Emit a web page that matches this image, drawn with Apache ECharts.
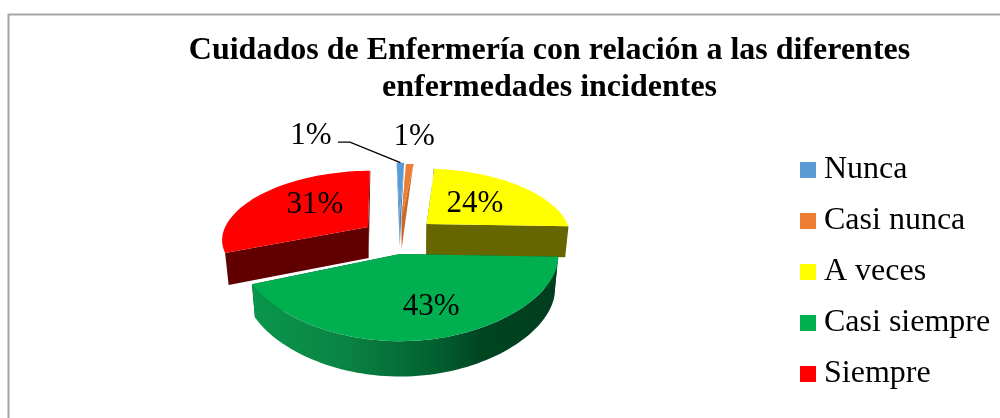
<!DOCTYPE html>
<html><head><meta charset="utf-8">
<style>html,body{margin:0;padding:0;background:#fff}#c{width:1000px;height:418px}</style>
<script src="https://cdn.jsdelivr.net/npm/echarts@6/dist/echarts.min.js"></script>
</head><body><div id="c"></div>
<script>
const categories = ['Nunca','Casi nunca','A veces','Casi siempre','Siempre'];
const values = [1,1,24,43,31];
const topColors = ['#5B9BD5','#ED7D31','#FFFF00','#00B050','#FF0000'];
const wallColors = ['#4A86BC','#C96A2A','#666600','#004522','#600000'];
const explode = [[-0.002,0.588],[0.012,0.56],[0.182,0.452],[0,0],[-0.217,0.405]];
const widthScale = [1,1,0.965,1,0.97];
const labelGround = [[-0.807,2.4],[0.127,2.375],[0.546,0.837],[0.192,-0.63],[-0.618,0.82]];
const FONT = '"Liberation Serif", serif';
const startDeg = -1.5, CX = 400, CY = 254, RAD = 158, K = 71.5, P = 0.18, DEPTH = 32, FAR = 1.07;
const total = values.reduce((a,b)=>a+b,0);
function range(i){
  let a = startDeg;
  for (let j=0;j<i;j++) a += values[j]/total*360;
  return [a, a+values[i]/total*360];
}
function project(X,Z){
  const s=1/(1+P*Z), sx = Z<0 ? Math.pow(s,0.25) : s;
  return [CX+RAD*X*sx, CY-K*Z*s, s, Z];
}
function rimPoint(i,deg){
  const t=deg*Math.PI/180, c=Math.cos(t);
  return project(explode[i][0]+widthScale[i]*Math.sin(t), explode[i][1]+(c>0?FAR*c:c));
}
function drop(p){
  const Z=p[3], taper = Z<0.7 ? 1 : Math.max(0,1-(Z-0.7)/0.8);
  return [CX+(p[0]-CX)*0.98, p[1]+DEPTH*Math.sqrt(p[2])*taper];
}
function poly(points, fill, z2){
  return {type:'polygon', z2:z2||0, shape:{points:points.map(p=>[p[0],p[1]])}, style:{fill:fill}};
}
function renderSlice(i){
  const [a,b]=range(i);
  const apex=project(explode[i][0],explode[i][1]);
  const rim=[];
  const n=Math.max(2,Math.ceil((b-a)/2));
  for(let k=0;k<=n;k++) rim.push(rimPoint(i,a+(b-a)*k/n));
  const kids=[];
  const cut=q=>poly([apex,q,drop(q),drop(apex)],wallColors[i],1);
  kids.push(cut(rim[0]));
  kids.push(cut(rim[rim.length-1]));
  const near=[];
  for(let k=0;k<=n;k++){ const d=a+(b-a)*k/n; if(Math.cos(d*Math.PI/180)<0.03) near.push(rim[k]); }
  if(near.length>rim.length/2){
    const fill = new echarts.graphic.LinearGradient(0,0,1,0,[
      {offset:0,color:'#0A964C'},{offset:0.3,color:'#0A8443'},{offset:0.6,color:'#036030'},
      {offset:0.75,color:'#004522'},{offset:1,color:'#003D1E'}]);
    kids.push(poly(near.concat(near.slice().reverse().map(drop)),fill,2));
  }
  kids.push(poly([apex].concat(rim),topColors[i],3));
  const lab=project(labelGround[i][0],labelGround[i][1]);
  kids.push({type:'text',z2:6,style:{text:values[i]+'%',x:lab[0],y:lab[1]+2,align:'center',verticalAlign:'middle',
    font:'31px '+FONT,fill:'#000'}});
  if(i===0){
    const e=rimPoint(0,(a+b)/2);
    kids.push({type:'polyline',z2:5,shape:{points:[[lab[0]+27,lab[1]+8],[lab[0]+39,lab[1]+8],[e[0],e[1]]]},
      style:{stroke:'#000',lineWidth:1.3,fill:null}});
  }
  return {type:'group',children:kids};
}
const zOrder=[2,3,2,4,2];
const chart=echarts.init(document.getElementById('c'),null,{renderer:'canvas'});
chart.setOption({
  animation:false,
  backgroundColor:'#fff',
  title:{text:'Cuidados de Enfermería con relación a las diferentes\nenfermedades incidentes',
    left:544.5,top:27,textAlign:'center',
    textStyle:{fontFamily:FONT,fontWeight:'bold',fontSize:32,lineHeight:37,color:'#000'}},
  legend:{data:categories,orient:'vertical',left:800,top:154,itemWidth:16,itemHeight:16,itemGap:19,
    icon:'rect',textStyle:{fontFamily:FONT,fontSize:32,color:'#000',padding:[0,0,0,3]},
    padding:0,selectedMode:false},
  graphic:[{type:'rect',shape:{x:8.5,y:14.5,width:1100,height:600},style:{fill:null,stroke:'#A6A6A6',lineWidth:2},silent:true}],
  series:categories.map((name,i)=>({
    type:'custom',name:name,coordinateSystem:'none',z:zOrder[i],silent:true,
    itemStyle:{color:topColors[i]},
    data:[values[i]],
    renderItem:()=>renderSlice(i)
  }))
});
</script></body></html>
